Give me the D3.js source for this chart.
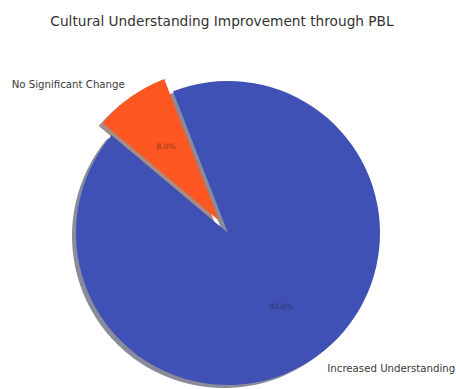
<!DOCTYPE html>
<html>
    <head>
        <meta charset="utf-8">
        <title>Cultural Understanding Improvement through PBL</title>
        <script src="https://d3js.org/d3.v7.min.js"></script>
        <style>
            body { margin: 0; background: #fff; }
            text { font-family: "DejaVu Sans", sans-serif; }
        </style>
    </head>
    <body>
        <script>
            const width = 456;
            const height = 389;

            // data
            const categories = ["Increased Understanding", "No Significant Change"];
            const values = [92, 8];
            const explode = [0, 0.1];

            const colors = ["#3F51B5", "#FF5722"];
            const cx = 228, cy = 233, r = 152;
            const shadowDx = -4, shadowDy = 3;

            const svg = d3.select("body").append("svg")
                .attr("width", width)
                .attr("height", height)
            ;

            svg.append("text")
                .attr("x", 222)
                .attr("y", 22)
                .attr("text-anchor", "middle")
                .attr("dominant-baseline", "middle")
                .style("font-size", "13.7px")
                .style("fill", "#333")
                .text("Cultural Understanding Improvement through PBL")
            ;

            // matplotlib style: startangle 140, counterclockwise
            const a0 = (90 - 140) * Math.PI / 180;
            const pie = d3.pie().sort(null).startAngle(a0).endAngle(a0 - 2 * Math.PI);
            const arcs = pie(values).map((d, i) => {
                const mid = (d.startAngle + d.endAngle) / 2;
                const off = explode[i] * r;
                d.mid = mid;
                d.ox = cx + off * Math.sin(mid);
                d.oy = cy - off * Math.cos(mid);
                d.i = i;
                return d;
            });
            const arc = d3.arc().innerRadius(0).outerRadius(r);

            const shade = c => {
                const q = d3.rgb(c);
                return d3.rgb(q.r * 0.3, q.g * 0.3, q.b * 0.3);
            };

            // shadows first
            svg.append("g").selectAll("path")
                .data(arcs).join("path")
                .attr("transform", d => `translate(${d.ox + shadowDx},${d.oy + shadowDy})`)
                .attr("d", arc)
                .style("fill", d => shade(colors[d.i]))
                .style("opacity", 0.5)
            ;

            svg.append("g").selectAll("path")
                .data(arcs).join("path")
                .attr("transform", d => `translate(${d.ox},${d.oy})`)
                .attr("d", arc)
                .style("fill", d => colors[d.i])
            ;

            // category labels at 1.1r
            svg.append("g").selectAll("text")
                .data(arcs).join("text")
                .attr("x", d => d.ox + 1.1 * r * Math.sin(d.mid) + (Math.sin(d.mid) >= 0 ? 2 : 3))
                .attr("y", d => d.oy - 1.1 * r * Math.cos(d.mid))
                .attr("text-anchor", d => Math.sin(d.mid) >= 0 ? "start" : "end")
                .attr("dominant-baseline", "middle")
                .style("font-size", "10.2px")
                .style("fill", "#3a3a3a")
                .text(d => categories[d.i])
            ;

            // percentage labels at 0.6r
            const total = d3.sum(values);
            svg.append("g").selectAll("text")
                .data(arcs).join("text")
                .attr("x", d => d.ox + 0.6 * r * Math.sin(d.mid))
                .attr("y", d => d.oy - 0.6 * r * Math.cos(d.mid))
                .attr("text-anchor", "middle")
                .attr("dominant-baseline", "middle")
                .style("font-size", "7.5px")
                .style("fill", "#222")
                .style("opacity", 0.55)
                .text(d => (d.value / total * 100).toFixed(1) + "%")
            ;
        </script>
    </body>
</html>
